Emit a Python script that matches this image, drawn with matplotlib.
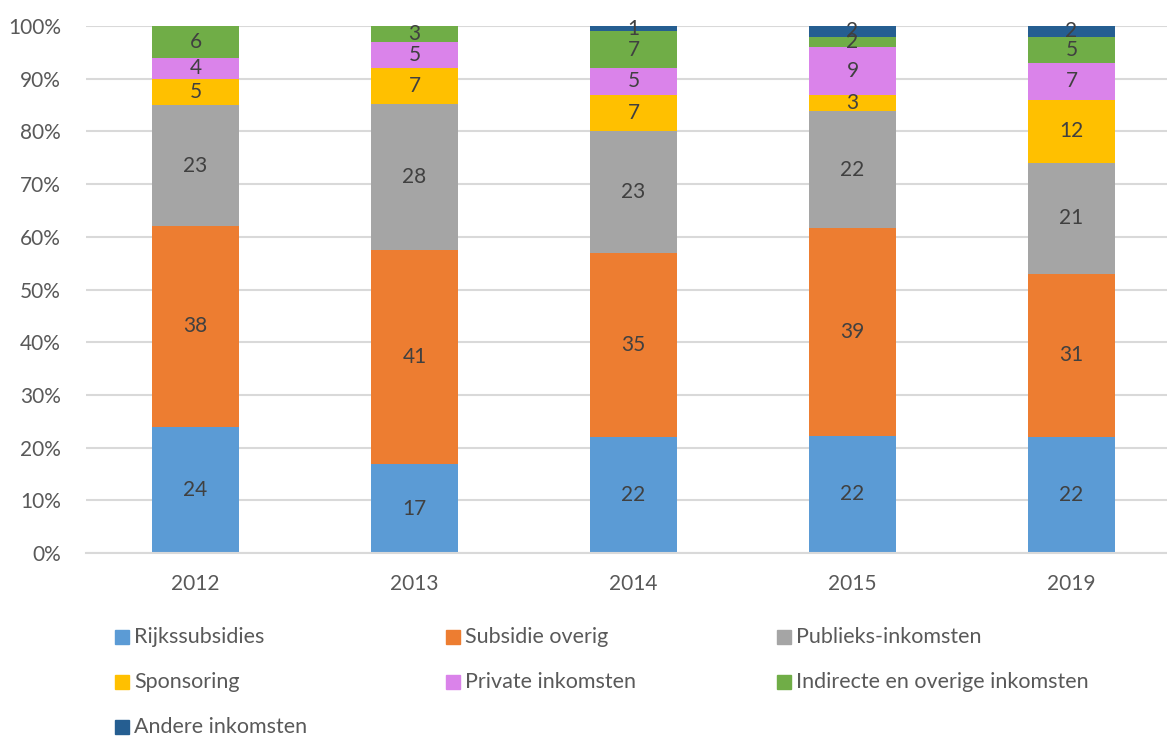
#!/usr/bin/env python3
"""100% stacked bar chart of income shares per year."""
import numpy as np
import matplotlib.pyplot as plt
from matplotlib.patches import Rectangle
from matplotlib.ticker import PercentFormatter

years = ["2012", "2013", "2014", "2015", "2019"]
categories = [
    "Rijkssubsidies",
    "Subsidie overig",
    "Publieks-inkomsten",
    "Sponsoring",
    "Private inkomsten",
    "Indirecte en overige inkomsten",
    "Andere inkomsten",
]
rijks = [24, 17, 22, 22, 22]
subsidie_overig = [38, 41, 35, 39, 31]
publieks = [23, 28, 23, 22, 21]
sponsoring = [5, 7, 7, 3, 12]
private = [4, 5, 5, 9, 7]
indirecte = [6, 3, 7, 2, 5]
andere = [0, 0, 1, 2, 2]

colors = ["#5B9BD5", "#ED7D31", "#A5A5A5", "#FFC000", "#DA83EA", "#70AD47", "#255E91"]
TEXT = "#404040"
TICK = "#595959"
GRID = "#D9D9D9"

plt.rcParams["font.family"] = ["Lato", "DejaVu Sans"]

series = np.array([rijks, subsidie_overig, publieks, sponsoring, private, indirecte, andere], dtype=float)
shares = series / series.sum(axis=0) * 100

W, H = 1167, 737
fig = plt.figure(figsize=(W / 100, H / 100), dpi=100)
ax = fig.add_axes([86 / W, (H - 553) / H, (W - 86) / W, 527 / H])

x = np.arange(len(years))
bottom = np.zeros(len(years))
for i, cat in enumerate(categories):
    ax.bar(x, shares[i], 0.4, bottom=bottom, color=colors[i], zorder=2)
    for j in range(len(years)):
        if series[i, j] > 0:
            ax.text(x[j], bottom[j] + shares[i, j] / 2, f"{series[i, j]:.0f}",
                    ha="center", va="center", fontsize=15, color=TEXT, zorder=3)
    bottom += shares[i]

ax.set_xlim(-0.5, -0.5 + (W - 86) / 219)
ax.set_ylim(0, 100)
ax.set_yticks(np.arange(0, 101, 10))
ax.yaxis.set_major_formatter(PercentFormatter(decimals=0))
ax.set_xticks(x)
ax.set_xticklabels(years)
ax.grid(axis="y", color=GRID, linewidth=1.5, zorder=0)
for side in ["left", "right", "top"]:
    ax.spines[side].set_visible(False)
ax.spines["bottom"].set_color(GRID)
ax.spines["bottom"].set_linewidth(1.5)
ax.tick_params(axis="both", length=0, labelsize=15, colors=TICK)
ax.tick_params(axis="y", pad=18)
ax.tick_params(axis="x", pad=15)

# legend, three columns below the plot
for i, cat in enumerate(categories):
    col, row = i % 3, i // 3
    lx = 115 + col * 331
    ly = 637 + row * 45
    fig.patches.append(Rectangle((lx / W, 1 - (ly + 7) / H), 14 / W, 14 / H,
                                 transform=fig.transFigure, color=colors[i]))
    fig.text((lx + 19) / W, 1 - ly / H, cat, ha="left", va="center",
             fontsize=15.5, color=TICK)

fig.savefig("out.png", dpi=100)
